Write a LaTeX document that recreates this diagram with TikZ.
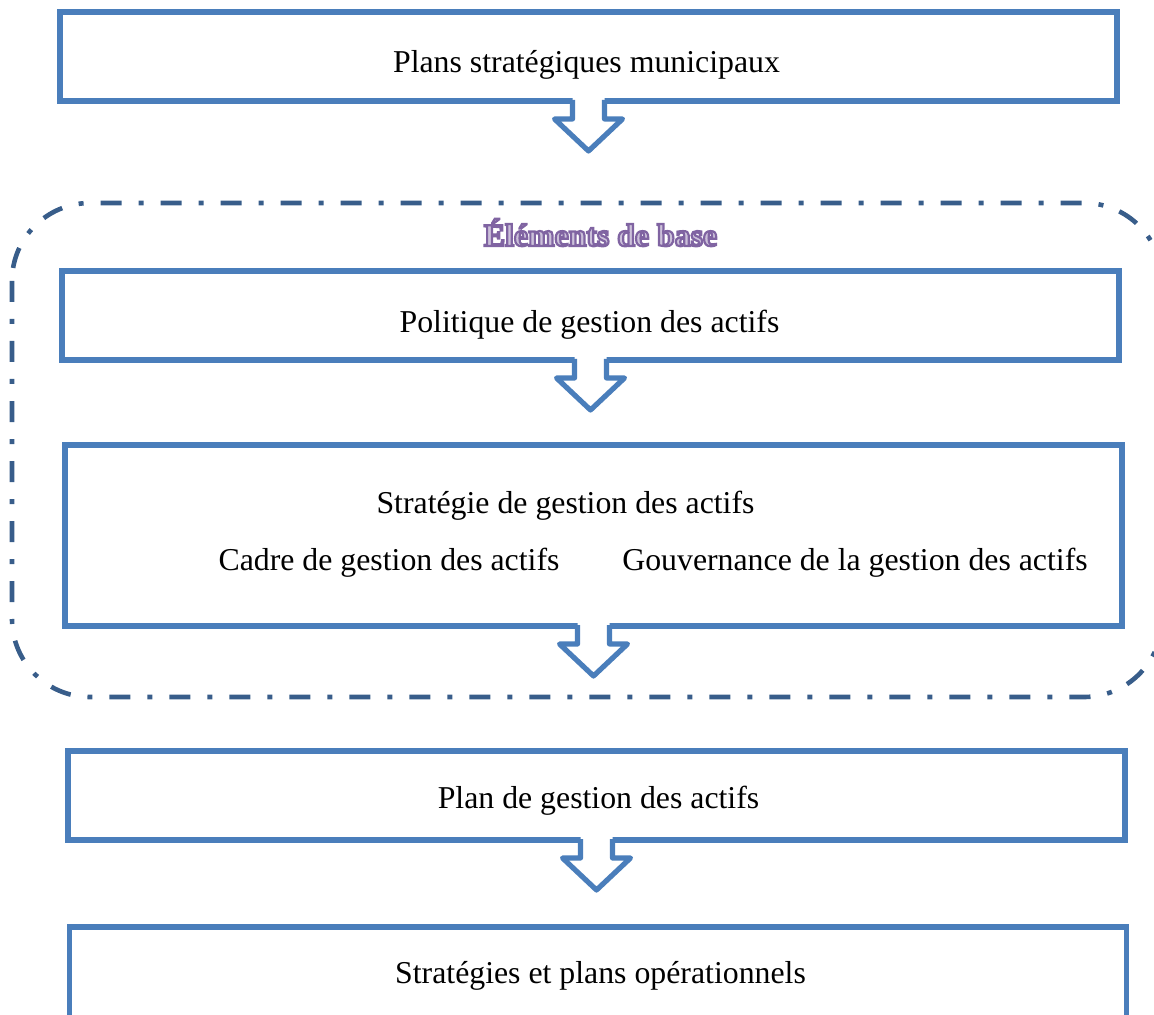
\documentclass[tikz,border=0pt]{standalone}
\usepackage{fontspec}
\setmainfont{Liberation Serif}
\usetikzlibrary{positioning}

\definecolor{boxblue}{HTML}{4A7EBB}
\definecolor{dashblue}{HTML}{385D8A}
\definecolor{titlepurple}{HTML}{8064A2}
\definecolor{titlefill}{HTML}{CCC1DA}

% hollow letters for the group title
\newcommand{\lettrecreuse}[1]{\special{pdf:literal direct 2 Tr 1.1 w 0.502 0.392 0.635 RG}#1\special{pdf:literal direct 0 Tr}}

% block arrow under a box
\newcommand{\fleche}[1]{%
  \begin{scope}[shift={(#1.south)}]
    \fill[white] (-16,-4) -- (-16,18) -- (-34,18) -- (0,50) -- (34,18) -- (16,18) -- (16,-4) -- cycle;
    \draw[arrowline] (-16,-1) -- (-16,18) -- (-34,18) -- (0,50) -- (34,18) -- (16,18) -- (16,-1);
  \end{scope}}

\begin{document}
\begin{tikzpicture}[x=0.5pt, y=-0.5pt,
    box/.style={draw=boxblue, line width=2.75pt, fill=white, outer sep=0pt, inner sep=0pt,
                minimum width=528.5pt, minimum height=44.5pt},
    arrowline/.style={draw=boxblue, line width=2.6pt, line join=round},
    txt/.style={anchor=base, inner sep=0pt, font=\fontsize{15.9}{19}\selectfont},
    groupe/.style={draw=dashblue, line width=2.3pt, rounded corners=39pt,
                   dash pattern=on 10.5pt off 8.5pt on 2.5pt off 8.5pt}]
  \useasboundingbox (0,0) rectangle (1154,1015);

  % dashed group
  \draw[groupe] (12,203) rectangle (1162,697);

  % boxes
  \node[box] (plans) at (588.5,56.5) {};
  \node[box] (politique) at (590.5,315.5) {};
  \node[box, minimum height=90.5pt] (strategie) at (593.5,535.5) {};
  \node[box] (plan) at (596.5,795.5) {};
  \node[box, minimum height=49pt] (operationnel) at (598,976) {};

  % arrows
  \fleche{plans}
  \fleche{politique}
  \fleche{strategie}
  \fleche{plan}

  % texts
  \node[txt] (t1) at (586.5,73) {Plans stratégiques municipaux};
  \node[txt] (t2) at (589.5,333) {Politique de gestion des actifs};
  \node[txt] (t3) at (565.5,513) {Stratégie de gestion des actifs};
  \node[txt] (t3a) at (389,570) {Cadre de gestion des actifs};
  \node[txt] (t3b) at (855,570) {Gouvernance de la gestion des actifs};
  \node[txt] (t4) at (598.5,808) {Plan de gestion des actifs};
  \node[txt] (t5) at (600.5,983) {Stratégies et plans opérationnels};

  \node[txt, font=\fontsize{15.9}{19}\selectfont\bfseries, text=titlefill] (titre) at (600.5,246)
    {\lettrecreuse{Éléments de base}};
\end{tikzpicture}
\end{document}
